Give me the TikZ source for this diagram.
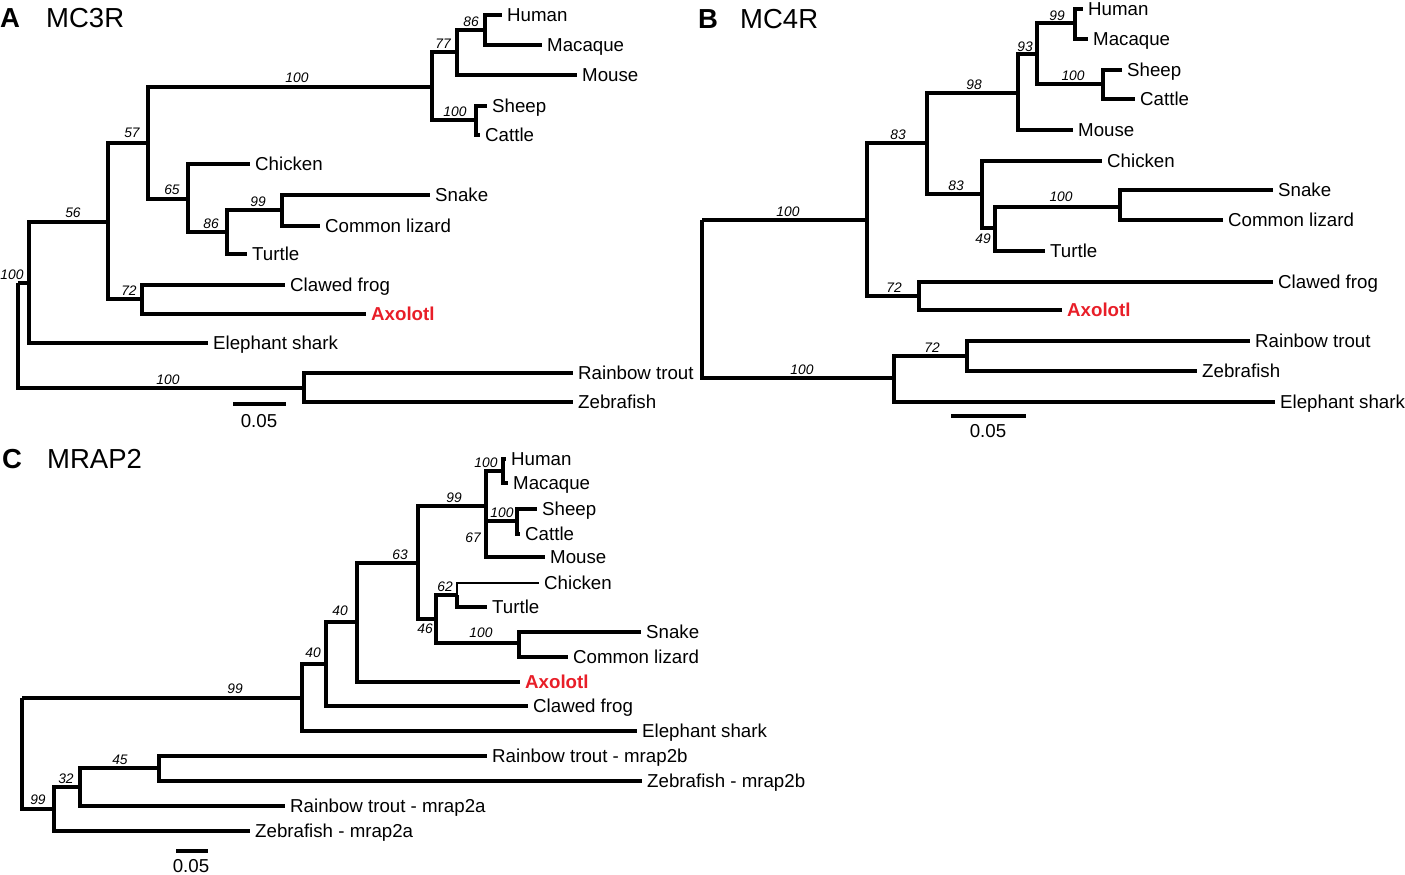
\documentclass[tikz,border=0pt]{standalone}
\usepackage{fontspec}
\setmainfont{Liberation Sans}
\definecolor{axred}{RGB}{232,30,40}
\begin{document}
\begin{tikzpicture}[x=1pt,y=-1pt,
  br/.style={line width=3.3pt},
  thinbr/.style={line width=2.2pt},
  leaf/.style={anchor=west, inner xsep=5pt, inner ysep=0pt, text height=16pt, text depth=2.8pt, font=\fontsize{18.7}{20}\selectfont},
  axo/.style={leaf, text=axred, font=\fontsize{18.7}{20}\selectfont\bfseries},
  bs/.style={inner sep=0pt, text height=9.7pt, text depth=0pt, font=\fontsize{13.8}{14}\selectfont\itshape},
  ttl/.style={anchor=west, inner sep=0pt, font=\fontsize{27.5}{30}\selectfont},
  ttlb/.style={anchor=west, inner sep=0pt, font=\fontsize{27.5}{30}\selectfont\bfseries},
  sc/.style={inner sep=0pt, font=\fontsize{18.7}{20}\selectfont}]
\useasboundingbox (0,0) rectangle (1405,875);

% ---------------- Panel A ----------------
\node[ttlb] (tA) at (0,18) {A};
\node[ttl] (tAn) at (46,18) {MC3R};
\coordinate (aR) at (18,283);
\coordinate (a1) at (29,283);
\coordinate (a56) at (108,222);
\coordinate (a57) at (148,143);
\coordinate (a100) at (432,87);
\coordinate (a77) at (457,52);
\coordinate (a86) at (485,30);
\coordinate (a100s) at (476,120);
\coordinate (a65) at (188,199);
\coordinate (a86t) at (227,232);
\coordinate (a99) at (282,210);
\coordinate (a72) at (142,299);
\coordinate (a100f) at (304,388);
\node[leaf] (aHuman) at (502,15) {Human};
\node[leaf] (aMacaque) at (542,45) {Macaque};
\node[leaf] (aMouse) at (577,75) {Mouse};
\node[leaf] (aSheep) at (487,106) {Sheep};
\node[leaf] (aCattle) at (480,135) {Cattle};
\node[leaf] (aChicken) at (250,164) {Chicken};
\node[leaf] (aSnake) at (430,195) {Snake};
\node[leaf] (aLizard) at (320,226) {Common lizard};
\node[leaf] (aTurtle) at (247,254) {Turtle};
\node[leaf] (aFrog) at (285,285) {Clawed frog};
\node[axo] (aAxo) at (366,314) {Axolotl};
\node[leaf] (aShark) at (208,343) {Elephant shark};
\node[leaf] (aTrout) at (573,373) {Rainbow trout};
\node[leaf] (aZebra) at (573,402) {Zebrafish};
\draw[br] (aR) |- (a1);
\draw[br] (aR) |- (a100f);
\draw[br] (a1) |- (a56);
\draw[br] (a1) |- (aShark.west);
\draw[br] (a56) |- (a57);
\draw[br] (a56) |- (a72);
\draw[br] (a57) |- (a100);
\draw[br] (a57) |- (a65);
\draw[br] (a100) |- (a77);
\draw[br] (a100) |- (a100s);
\draw[br] (a77) |- (a86);
\draw[br] (a77) |- (aMouse.west);
\draw[br] (a86) |- (aHuman.west);
\draw[br] (a86) |- (aMacaque.west);
\draw[br] (a100s) |- (aSheep.west);
\draw[br] (a100s) |- (aCattle.west);
\draw[br] (a65) |- (aChicken.west);
\draw[br] (a65) |- (a86t);
\draw[br] (a86t) |- (a99);
\draw[br] (a86t) |- (aTurtle.west);
\draw[br] (a99) |- (aSnake.west);
\draw[br] (a99) |- (aLizard.west);
\draw[br] (a72) |- (aFrog.west);
\draw[br] (a72) |- (aAxo.west);
\draw[br] (a100f) |- (aTrout.west);
\draw[br] (a100f) |- (aZebra.west);
\node[bs] (laR) at (12,275) {100};
\node[bs] (la56) at (73,213) {56};
\node[bs] (la57) at (132,133) {57};
\node[bs] (la100) at (297,78) {100};
\node[bs] (la77) at (443,44) {77};
\node[bs] (la86) at (471,22) {86};
\node[bs] (la100s) at (455,112) {100};
\node[bs] (la65) at (172,190) {65};
\node[bs] (la99) at (258,202) {99};
\node[bs] (la86t) at (211,224) {86};
\node[bs] (la72) at (129,291) {72};
\node[bs] (la100f) at (168,380) {100};
\coordinate (sA1) at (233,404);
\coordinate (sA2) at (286,404);
\draw[br] (sA1) -- (sA2);
\node[sc] (sAt) at (259,421) {0.05};

% ---------------- Panel B ----------------
\node[ttlb] (tB) at (698,19) {B};
\node[ttl] (tBn) at (740,19) {MC4R};
\coordinate (bR) at (702,220);
\coordinate (b83) at (867,220);
\coordinate (b83u) at (927,143);
\coordinate (b98) at (1018,93);
\coordinate (b93) at (1037,54);
\coordinate (b99) at (1075,23);
\coordinate (b100s) at (1103,84);
\coordinate (b83l) at (982,194);
\coordinate (b49) at (995,228);
\coordinate (b100n) at (1120,207);
\coordinate (b72) at (919,296);
\coordinate (b100f) at (894,378);
\coordinate (b72f) at (967,356);
\node[leaf] (bHuman) at (1083,9) {Human};
\node[leaf] (bMacaque) at (1088,39) {Macaque};
\node[leaf] (bSheep) at (1122,70) {Sheep};
\node[leaf] (bCattle) at (1135,99) {Cattle};
\node[leaf] (bMouse) at (1073,130) {Mouse};
\node[leaf] (bChicken) at (1102,161) {Chicken};
\node[leaf] (bSnake) at (1273,190) {Snake};
\node[leaf] (bLizard) at (1223,220) {Common lizard};
\node[leaf] (bTurtle) at (1045,251) {Turtle};
\node[leaf] (bFrog) at (1273,282) {Clawed frog};
\node[axo] (bAxo) at (1062,310) {Axolotl};
\node[leaf] (bTrout) at (1250,341) {Rainbow trout};
\node[leaf] (bZebra) at (1197,371) {Zebrafish};
\node[leaf] (bShark) at (1275,402) {Elephant shark};
\draw[br] (bR) |- (b83);
\draw[br] (bR) |- (b100f);
\draw[br] (b83) |- (b83u);
\draw[br] (b83) |- (b72);
\draw[br] (b83u) |- (b98);
\draw[br] (b83u) |- (b83l);
\draw[br] (b98) |- (b93);
\draw[br] (b98) |- (bMouse.west);
\draw[br] (b93) |- (b99);
\draw[br] (b93) |- (b100s);
\draw[br] (b99) |- (bHuman.west);
\draw[br] (b99) |- (bMacaque.west);
\draw[br] (b100s) |- (bSheep.west);
\draw[br] (b100s) |- (bCattle.west);
\draw[br] (b83l) |- (bChicken.west);
\draw[br] (b83l) |- (b49);
\draw[br] (b49) |- (b100n);
\draw[br] (b49) |- (bTurtle.west);
\draw[br] (b100n) |- (bSnake.west);
\draw[br] (b100n) |- (bLizard.west);
\draw[br] (b72) |- (bFrog.west);
\draw[br] (b72) |- (bAxo.west);
\draw[br] (b100f) |- (b72f);
\draw[br] (b100f) |- (bShark.west);
\draw[br] (b72f) |- (bTrout.west);
\draw[br] (b72f) |- (bZebra.west);
\node[bs] (lbR) at (788,212) {100};
\node[bs] (lb100f) at (802,370) {100};
\node[bs] (lb83u) at (898,135) {83};
\node[bs] (lb98) at (974,85) {98};
\node[bs] (lb93) at (1025,47) {93};
\node[bs] (lb99) at (1057,16) {99};
\node[bs] (lb100s) at (1073,76) {100};
\node[bs] (lb83l) at (956,186) {83};
\node[bs] (lb49) at (983,239) {49};
\node[bs] (lb100n) at (1061,197) {100};
\node[bs] (lb72) at (894,288) {72};
\node[bs] (lb72f) at (932,348) {72};
\coordinate (sB1) at (951,416);
\coordinate (sB2) at (1026,416);
\draw[br] (sB1) -- (sB2);
\node[sc] (sBt) at (988,431) {0.05};

% ---------------- Panel C ----------------
\node[ttlb] (tC) at (2,459) {C};
\node[ttl] (tCn) at (47,459) {MRAP2};
\coordinate (cR) at (22,698);
\coordinate (c1) at (302,698);
\coordinate (c40b) at (326,664);
\coordinate (c40a) at (357,622);
\coordinate (c63) at (418,563);
\coordinate (c99) at (486,506);
\coordinate (c100h) at (503,471);
\coordinate (c100s) at (517,521);
\coordinate (c46) at (436,619);
\coordinate (c62) at (457,595);
\coordinate (c100n) at (519,643);
\coordinate (c99f) at (54,809);
\coordinate (c32) at (80,787);
\coordinate (c45) at (159,768);
\node[leaf] (cHuman) at (506,459) {Human};
\node[leaf] (cMacaque) at (508,483) {Macaque};
\node[leaf] (cSheep) at (537,509) {Sheep};
\node[leaf] (cCattle) at (520,534) {Cattle};
\node[leaf] (cMouse) at (545,557) {Mouse};
\node[leaf] (cChicken) at (539,583) {Chicken};
\node[leaf] (cTurtle) at (487,607) {Turtle};
\node[leaf] (cSnake) at (641,632) {Snake};
\node[leaf] (cLizard) at (568,657) {Common lizard};
\node[axo] (cAxo) at (520,682) {Axolotl};
\node[leaf] (cFrog) at (528,706) {Clawed frog};
\node[leaf] (cShark) at (637,731) {Elephant shark};
\node[leaf] (cTroutB) at (487,756) {Rainbow trout - mrap2b};
\node[leaf] (cZebraB) at (642,781) {Zebrafish - mrap2b};
\node[leaf] (cTroutA) at (285,806) {Rainbow trout - mrap2a};
\node[leaf] (cZebraA) at (250,831) {Zebrafish - mrap2a};
\draw[br] (cR) |- (c1);
\draw[br] (cR) |- (c99f);
\draw[br] (c1) |- (c40b);
\draw[br] (c1) |- (cShark.west);
\draw[br] (c40b) |- (c40a);
\draw[br] (c40b) |- (cFrog.west);
\draw[br] (c40a) |- (c63);
\draw[br] (c40a) |- (cAxo.west);
\draw[br] (c63) |- (c99);
\draw[br] (c63) |- (c46);
\draw[br] (c99) |- (c100h);
\draw[br] (c99) |- (c100s);
\draw[br] (c99) |- (cMouse.west);
\draw[br] (c100h) |- (cHuman.west);
\draw[br] (c100h) |- (cMacaque.west);
\draw[br] (c100s) |- (cSheep.west);
\draw[br] (c100s) |- (cCattle.west);
\draw[br] (c46) |- (c62);
\draw[br] (c46) |- (c100n);
\draw[thinbr] (c62) |- (cChicken.west);
\draw[br] (c62) |- (cTurtle.west);
\draw[br] (c100n) |- (cSnake.west);
\draw[br] (c100n) |- (cLizard.west);
\draw[br] (c99f) |- (c32);
\draw[br] (c99f) |- (cZebraA.west);
\draw[br] (c32) |- (c45);
\draw[br] (c32) |- (cTroutA.west);
\draw[br] (c45) |- (cTroutB.west);
\draw[br] (c45) |- (cZebraB.west);
\node[bs] (lcR) at (235,689) {99};
\node[bs] (lc40b) at (313,653) {40};
\node[bs] (lc40a) at (340,611) {40};
\node[bs] (lc63) at (400,555) {63};
\node[bs] (lc99) at (454,498) {99};
\node[bs] (lc100h) at (486,463) {100};
\node[bs] (lc100s) at (502,513) {100};
\node[bs] (lc67) at (473,538) {67};
\node[bs] (lc46) at (425,629) {46};
\node[bs] (lc62) at (445,587) {62};
\node[bs] (lc100n) at (481,633) {100};
\node[bs] (lc99f) at (38,800) {99};
\node[bs] (lc32) at (66,779) {32};
\node[bs] (lc45) at (120,760) {45};
\coordinate (sC1) at (176,851);
\coordinate (sC2) at (208,851);
\draw[br] (sC1) -- (sC2);
\node[sc] (sCt) at (191,866) {0.05};
\end{tikzpicture}
\end{document}
